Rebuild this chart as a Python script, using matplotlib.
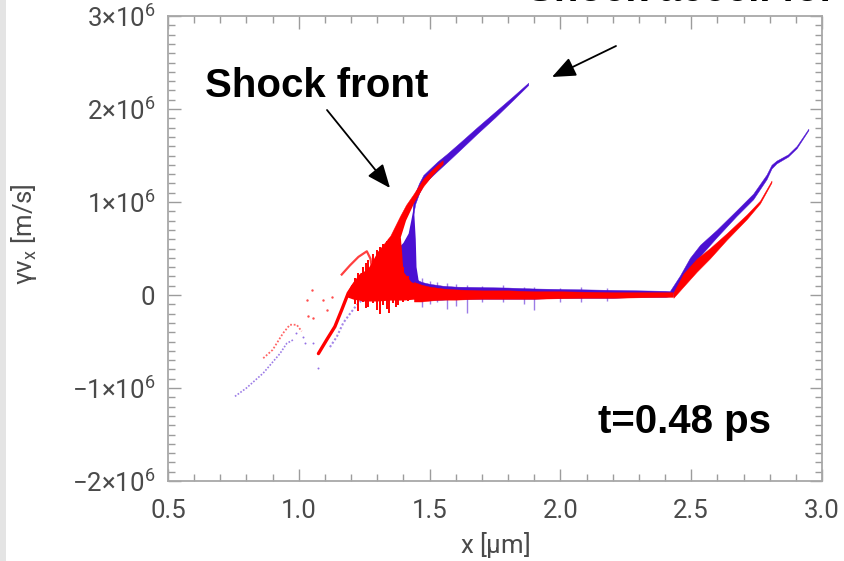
import matplotlib
matplotlib.use("Agg")
import matplotlib.pyplot as plt
from matplotlib.ticker import FixedLocator, FixedFormatter, MultipleLocator
from matplotlib.patches import Rectangle

plt.rcParams["font.family"] = ["Roboto", "DejaVu Sans"]
plt.rcParams["mathtext.default"] = "regular"

V = 1e6  # velocity unit, m/s
BLUE = "#4b10d2"
RED = "#ff0000"
LABEL_GRAY = "#4a4a4a"

# ---------------- species 1 (blue) ----------------
# reflected / accelerated branch ahead of the shock
blue_upper_x = [1.436, 1.445, 1.46, 1.476, 1.50, 1.53, 1.565, 1.62, 1.68, 1.75, 1.82, 1.877]
blue_upper_hi = [0.98, 1.10, 1.205, 1.29, 1.355, 1.435, 1.515, 1.65, 1.80, 1.97, 2.14, 2.282]
blue_upper_lo = [0.84, 0.98, 1.095, 1.19, 1.255, 1.335, 1.425, 1.57, 1.73, 1.91, 2.10, 2.258]
# shock-front column
blue_blob_x = [1.34, 1.36, 1.38, 1.40, 1.42, 1.43, 1.44, 1.447, 1.45, 1.46, 1.44, 1.40, 1.36]
blue_blob_v = [0.15, 0.40, 0.50, 0.56, 0.66, 0.80, 0.95, 0.60, 0.30, 0.12, 0.06, 0.08, 0.10]
# upstream plateau
flat_x = [1.44, 1.47, 1.50, 1.55, 1.60, 1.70, 1.80, 1.90, 2.00, 2.10, 2.20, 2.30, 2.40, 2.43]
blue_flat_hi = [0.18, 0.14, 0.12, 0.10, 0.09, 0.085, 0.08, 0.07, 0.065, 0.06, 0.055, 0.05, 0.045, 0.04]
blue_flat_lo = [-0.04, -0.05, -0.05, -0.05, -0.04, -0.04, -0.04, -0.04, -0.03, -0.03, -0.03, -0.02, -0.02, -0.01]
blue_spike_x = [1.47, 1.50, 1.53, 1.565, 1.60, 1.643, 1.70, 1.78, 1.86, 1.90, 2.00, 2.08, 2.18]
blue_spike_top = [0.18, 0.15, 0.14, 0.13, 0.12, 0.11, 0.10, 0.11, 0.09, 0.09, 0.08, 0.09, 0.07]
blue_spike_bot = [-0.13, -0.10, -0.08, -0.15, -0.12, -0.19, -0.08, -0.07, -0.10, -0.16, -0.07, -0.08, -0.06]
# rear (target-side) branch
blue_rear_x = [2.42, 2.457, 2.495, 2.534, 2.597, 2.673, 2.737, 2.788, 2.807, 2.826, 2.87, 2.903, 2.948]
blue_rear_hi = [0.05, 0.21, 0.40, 0.54, 0.70, 0.91, 1.09, 1.295, 1.40, 1.445, 1.512, 1.602, 1.788]
blue_rear_lo = [-0.01, 0.11, 0.28, 0.42, 0.62, 0.85, 1.03, 1.245, 1.36, 1.415, 1.488, 1.578, 1.772]
# low-velocity tails
blue_tail_x = [0.756, 0.80, 0.864, 0.928, 0.954, 0.98]
blue_tail_v = [-1.09, -1.00, -0.84, -0.63, -0.52, -0.48]
blue_fil_x = [1.119, 1.145, 1.17, 1.196, 1.221, 1.25]
blue_fil_v = [-0.56, -0.45, -0.30, -0.20, -0.11, -0.03]
blue_dot_x = [1.017, 1.024, 1.075, 1.126, 0.99, 1.055]
blue_dot_v = [-0.45, -0.52, -0.79, -0.38, -0.41, -0.52]

# ---------------- species 2 (red) ----------------
red_upper_x = [1.30, 1.35, 1.387, 1.41, 1.437, 1.476, 1.51, 1.55]
red_upper_hi = [0.46, 0.64, 0.85, 0.97, 1.08, 1.25, 1.35, 1.45]
red_upper_lo = [0.36, 0.54, 0.76, 0.88, 0.99, 1.17, 1.29, 1.41]
red_cloud_x = [1.18, 1.20, 1.23, 1.27, 1.30, 1.33, 1.37, 1.39, 1.41, 1.43, 1.445,
               1.435, 1.41, 1.39, 1.395, 1.40, 1.43, 1.46, 1.47, 1.44, 1.40, 1.35, 1.30, 1.25, 1.21]
red_cloud_v = [-0.02, 0.10, 0.20, 0.30, 0.45, 0.55, 0.68, 0.80, 0.90, 0.98, 1.04,
               0.95, 0.80, 0.62, 0.45, 0.25, 0.14, 0.10, -0.03, -0.05, -0.06, -0.06, -0.07, -0.07, -0.05]
red_streak_x = [1.215, 1.228, 1.246, 1.258, 1.266, 1.285, 1.30, 1.31, 1.322, 1.337, 1.345, 1.36, 1.372, 1.38, 1.40, 1.418]
red_streak_top = [0.18, 0.24, 0.30, 0.34, 0.38, 0.44, 0.48, 0.52, 0.55, 0.58, 0.60, 0.64, 0.66, 0.70, 0.30, 0.20]
red_streak_bot = [-0.10, -0.17, -0.08, -0.14, -0.13, -0.09, -0.16, -0.20, -0.11, -0.15, -0.19, -0.09, -0.13, -0.11, -0.07, -0.06]
red_flat_hi = [0.14, 0.11, 0.09, 0.07, 0.06, 0.05, 0.05, 0.04, 0.04, 0.035, 0.03, 0.03, 0.03, 0.03]
red_flat_lo = [-0.07, -0.07, -0.06, -0.05, -0.05, -0.04, -0.04, -0.04, -0.035, -0.03, -0.03, -0.025, -0.02, -0.02]
red_rear_x = [2.432, 2.47, 2.521, 2.572, 2.636, 2.712, 2.763, 2.807]
red_rear_hi = [0.03, 0.23, 0.39, 0.505, 0.665, 0.865, 1.015, 1.23]
red_rear_lo = [-0.03, 0.09, 0.25, 0.395, 0.595, 0.815, 0.985, 1.21]
red_fil_x = [1.075, 1.107, 1.138, 1.164, 1.189, 1.215, 1.24]
red_fil_v = [-0.63, -0.48, -0.34, -0.16, 0.02, 0.13, 0.22]
red_tail_x = [0.864, 0.90, 0.94, 0.966, 0.992, 1.011]
red_tail_v = [-0.68, -0.59, -0.41, -0.32, -0.32, -0.39]
red_loop_x = [1.164, 1.196, 1.228, 1.26, 1.274, 1.279]
red_loop_v = [0.22, 0.32, 0.41, 0.47, 0.39, 0.30]
red_dot_x = [1.049, 1.03, 1.036, 1.055, 1.094, 1.107, 1.125]
red_dot_v = [0.05, -0.05, -0.23, -0.25, -0.05, -0.16, -0.02]

# axis ticks
y_ticks = [-2, -1, 0, 1, 2, 3]
y_labels = ["\u22122$\\times$10$^{6}$", "\u22121$\\times$10$^{6}$", "0",
            "1$\\times$10$^{6}$", "2$\\times$10$^{6}$", "3$\\times$10$^{6}$"]
x_ticks = [0.5, 1.0, 1.5, 2.0, 2.5, 3.0]
x_labels = ["0.5", "1.0", "1.5", "2.0", "2.5", "3.0"]


def sc(vals):
    return [v * V for v in vals]


fig = plt.figure(figsize=(8.44, 5.61), dpi=100)
fig.patch.set_facecolor("white")
fig.patches.append(Rectangle((0, 0), 6 / 844, 1, transform=fig.transFigure,
                             facecolor="#e4e4e4", edgecolor="none", zorder=0))
ax = fig.add_axes([168 / 844, 1 - 481 / 561, 654 / 844, 465 / 561])

# blue species
ax.fill(blue_blob_x, sc(blue_blob_v), color=BLUE, lw=0, zorder=2)
ax.fill_between(blue_upper_x, sc(blue_upper_lo), sc(blue_upper_hi), color=BLUE, lw=0.3, zorder=2)
ax.fill_between(flat_x, sc(blue_flat_lo), sc(blue_flat_hi), color=BLUE, lw=0.3, zorder=2)
ax.vlines(blue_spike_x, sc(blue_spike_bot), sc(blue_spike_top), color=BLUE, lw=1.0, alpha=0.55, zorder=2)
ax.fill_between(blue_rear_x, sc(blue_rear_lo), sc(blue_rear_hi), color=BLUE, lw=0.3, zorder=2)
ax.plot(blue_tail_x, sc(blue_tail_v), color=BLUE, lw=1.2, alpha=0.55, ls=(0, (1, 1)), zorder=2)
ax.plot(blue_fil_x, sc(blue_fil_v), color=BLUE, lw=1.5, alpha=0.5, ls=(0, (1, 1)), zorder=2)
ax.scatter(blue_dot_x, sc(blue_dot_v), s=2, color=BLUE, alpha=0.6, lw=0, zorder=2)

# red species
ax.fill(red_cloud_x, sc(red_cloud_v), color=RED, lw=0, zorder=3)
ax.vlines(red_streak_x, sc(red_streak_bot), sc(red_streak_top), color=RED, lw=1.4, zorder=3)
ax.fill_between(red_upper_x, sc(red_upper_lo), sc(red_upper_hi), color=RED, lw=0.3, zorder=3)
ax.fill_between(flat_x, sc(red_flat_lo), sc(red_flat_hi), color=RED, lw=0.3, zorder=3)
ax.fill_between(red_rear_x, sc(red_rear_lo), sc(red_rear_hi), color=RED, lw=0.3, zorder=3)
ax.plot(red_fil_x, sc(red_fil_v), color=RED, lw=2.4, zorder=3, solid_capstyle="round")
ax.plot(red_tail_x, sc(red_tail_v), color=RED, lw=1.3, alpha=0.6, ls=(0, (1, 1)), zorder=3)
ax.plot(red_loop_x, sc(red_loop_v), color=RED, lw=1.6, alpha=0.75, zorder=3)
ax.scatter(red_dot_x, sc(red_dot_v), s=3, color=RED, alpha=0.7, lw=0, zorder=3)

ax.set_xlim(0.5, 3.0)
ax.set_ylim(-2 * V, 3 * V)

ax.xaxis.set_major_locator(FixedLocator(x_ticks))
ax.xaxis.set_major_formatter(FixedFormatter(x_labels))
ax.xaxis.set_minor_locator(MultipleLocator(0.1))
ax.yaxis.set_major_locator(FixedLocator(sc(y_ticks)))
ax.yaxis.set_major_formatter(FixedFormatter(y_labels))
ax.yaxis.set_minor_locator(MultipleLocator(0.1 * V))

ax.tick_params(which="both", direction="in", top=True, right=True,
               color="#9c9c9c", width=1.0, labelcolor=LABEL_GRAY, labelsize=18.5)
ax.tick_params(which="major", length=9)
ax.tick_params(which="minor", length=5)
ax.tick_params(axis="x", which="major", pad=13)
ax.tick_params(axis="y", which="major", pad=9)
for sp in ax.spines.values():
    sp.set_color("#a8a8a8")
    sp.set_linewidth(1.3)

ax.set_xlabel("x [$\\mu$m]", fontsize=18.5, color=LABEL_GRAY)
ax.set_ylabel("\u03b3v$_{x}$ [m/s]", fontsize=18.5, color=LABEL_GRAY)
ax.xaxis.set_label_coords(0.5, -0.105)
ax.yaxis.set_label_coords(-0.197, 0.53)

# annotations (figure-pixel placement)
fig.text(205 / 844, 1 - 97 / 561, "Shock front", family="Liberation Sans",
         weight="bold", fontsize=29, va="baseline", ha="left")
fig.text(598 / 844, 1 - 433 / 561, "t=0.48 ps", family="Liberation Sans",
         weight="bold", fontsize=29, va="baseline", ha="left")
fig.text(527 / 844, 1 - 1 / 561, "Shock accel. for", family="Liberation Sans",
         weight="bold", fontsize=29, va="baseline", ha="left")

arrow = dict(arrowstyle="-|>,head_length=0.6,head_width=0.25", color="black",
             lw=1.3, mutation_scale=24, shrinkA=0, shrinkB=0)
ax.annotate("", xy=(390, 561 - 188), xytext=(327, 561 - 110),
            xycoords="figure pixels", textcoords="figure pixels", arrowprops=arrow)
ax.annotate("", xy=(552, 561 - 77), xytext=(616, 561 - 46),
            xycoords="figure pixels", textcoords="figure pixels", arrowprops=arrow)

fig.savefig("out.png", dpi=100)
